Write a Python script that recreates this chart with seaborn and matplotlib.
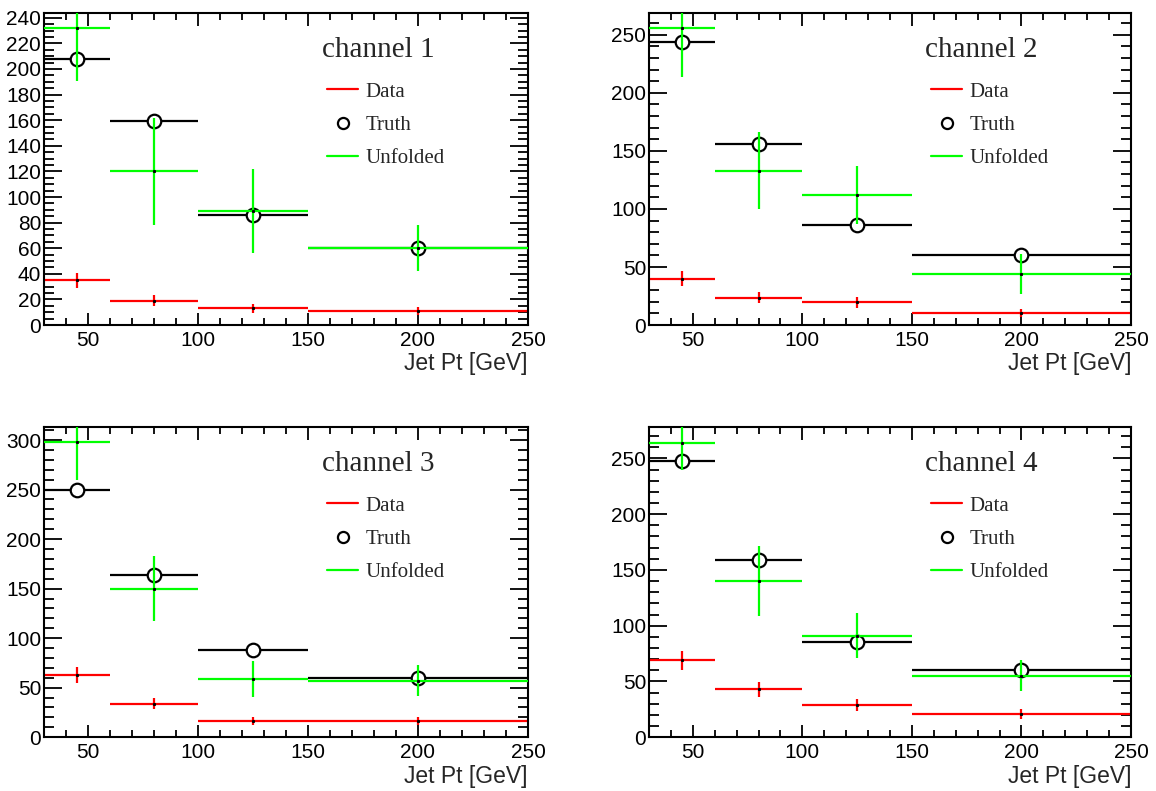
import numpy as np
import pandas as pd
import matplotlib
matplotlib.use("Agg")
import matplotlib.pyplot as plt
import seaborn as sns
from matplotlib.lines import Line2D
from matplotlib.ticker import MultipleLocator

# binning (Jet Pt [GeV])
bin_lo = [30, 60, 100, 150]
bin_hi = [60, 100, 150, 250]
bin_mid = [45, 80, 125, 200]

channels = ["channel 1", "channel 2", "channel 3", "channel 4"]

# values
data_vals = [[35, 19, 13, 11], [40, 23.5, 19.5, 10.5], [63, 34, 16, 16], [69, 43, 29, 21]]
data_errs = [[6, 4.4, 3.6, 3.3], [6.3, 4.8, 4.4, 3.2], [7.9, 5.8, 4, 4], [8.3, 6.5, 5.3, 4.5]]
truth_vals = [[208, 159, 86, 60], [244, 156, 86, 60], [250, 164, 88, 60], [248, 159, 85, 60]]
unf_vals = [[232, 120, 89, 60], [256, 133, 112, 44], [298, 150, 59, 57], [264, 140, 91, 55]]
unf_errs = [[41, 42, 33, 18], [42, 33, 25, 17.5], [38, 33, 18, 15.5], [24, 31, 20, 14]]

y_max = [244, 269, 313, 278]
y_major = [20, 50, 50, 50]
y_minor = [5, 10, 10, 10]

sns.set_theme(style="ticks")
plt.rcParams["font.family"] = ["Liberation Sans", "DejaVu Sans"]
plt.rcParams["axes.linewidth"] = 1.5

fig = plt.figure(figsize=(11.56, 7.91), dpi=100)
positions = [
    [0.038, 0.589, 0.4187, 0.395],
    [0.5614, 0.589, 0.417, 0.395],
    [0.038, 0.068, 0.4187, 0.392],
    [0.5614, 0.068, 0.417, 0.392],
]

xerr = [np.array(bin_mid) - np.array(bin_lo), np.array(bin_hi) - np.array(bin_mid)]
serif = {"family": ["Liberation Serif", "DejaVu Serif"]}

for i in range(4):
    ax = fig.add_axes(positions[i])
    df = pd.DataFrame({"pt": bin_mid, "truth": truth_vals[i]})

    # Data (red)
    ax.errorbar(bin_mid, data_vals[i], xerr=xerr, yerr=data_errs[i], fmt="none",
                ecolor="#ff0000", elinewidth=1.6, capsize=0, zorder=2)
    # Truth (black, open circles)
    ax.errorbar(bin_mid, truth_vals[i], xerr=xerr, fmt="none",
                ecolor="black", elinewidth=1.6, capsize=0, zorder=3)
    sns.scatterplot(data=df, x="pt", y="truth", ax=ax, marker="o", s=95,
                    facecolor="white", edgecolor="black", linewidth=1.6, zorder=4)
    # Unfolded (green)
    ax.errorbar(bin_mid, unf_vals[i], xerr=xerr, yerr=unf_errs[i], fmt="none",
                ecolor="#00ff00", elinewidth=1.6, capsize=0, zorder=5)
    ax.plot(bin_mid, data_vals[i], ls="none", marker="s", ms=1.2, color="black", zorder=6)
    ax.plot(bin_mid, unf_vals[i], ls="none", marker="s", ms=1.2, color="black", zorder=6)

    ax.set_xlim(30, 250)
    ax.set_ylim(0, y_max[i])
    ax.xaxis.set_major_locator(MultipleLocator(50))
    ax.xaxis.set_minor_locator(MultipleLocator(10))
    ax.yaxis.set_major_locator(MultipleLocator(y_major[i]))
    ax.yaxis.set_minor_locator(MultipleLocator(y_minor[i]))
    ax.tick_params(which="both", direction="in", top=True, right=True,
                   width=1.3, labelsize=15, colors="black")
    ax.tick_params(axis="x", which="major", length=9, pad=4)
    ax.tick_params(axis="x", which="minor", length=5)
    ax.tick_params(axis="y", which="major", length=13, pad=2)
    ax.tick_params(axis="y", which="minor", length=7)
    for sp in ax.spines.values():
        sp.set_visible(True)
        sp.set_color("black")

    ax.set_xlabel("Jet Pt [GeV]", loc="right", fontsize=16.5, labelpad=2)
    ax.set_ylabel("")

    ax.text(0.69, 0.88, channels[i], transform=ax.transAxes, ha="center", va="center",
            fontsize=21, fontdict=serif)

    handles = [
        Line2D([], [], color="#ff0000", lw=1.6),
        Line2D([], [], ls="none", marker="o", ms=8, mfc="white", mec="black", mew=1.6),
        Line2D([], [], color="#00ff00", lw=1.6),
    ]
    ax.legend(handles, ["Data", "Truth", "Unfolded"], loc="upper left",
              bbox_to_anchor=(0.585, 0.778), frameon=False, borderpad=0,
              borderaxespad=0, handlelength=1.5, handletextpad=0.35,
              labelspacing=0.66, prop={"family": "Liberation Serif", "size": 15})

fig.savefig("out.png", dpi=100)
